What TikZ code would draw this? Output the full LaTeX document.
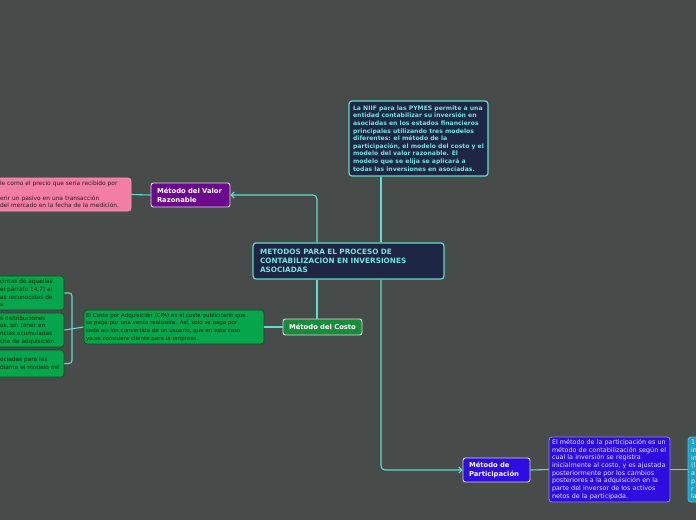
\documentclass[tikz,border=0pt]{standalone}
\usepackage{fontspec}
\setmainfont{DejaVu Sans}
\usetikzlibrary{arrows.meta}
\definecolor{bgcol}{HTML}{474C4B}
\definecolor{linkcol}{HTML}{62DCCB}
\definecolor{navy}{HTML}{1D2642}
\definecolor{roottext}{HTML}{74E2DE}
\definecolor{purplebox}{HTML}{6C0A8E}
\definecolor{pinkbox}{HTML}{F27DA5}
\definecolor{greendark}{HTML}{1A8A3B}
\definecolor{greenbox}{HTML}{08A64C}
\definecolor{greenedge}{HTML}{124A26}
\definecolor{bluebox}{HTML}{2F0CE0}
\definecolor{blueedge}{HTML}{8F86E6}
\definecolor{tealbox}{HTML}{1DA2C6}

\begin{document}
\begin{tikzpicture}[x=1pt, y=-1pt,
  root/.style={draw=linkcol, line width=1.2pt, fill=navy, rounded corners=3pt,
               text=roottext, align=left, inner ysep=0pt},
  title/.style={draw=white!85!black, line width=0.9pt, rounded corners=2.5pt,
                text=white, align=left, inner ysep=0pt,
                font=\fontsize{6.8}{9.2}\selectfont\bfseries},
  note/.style={line width=0.8pt, rounded corners=3pt, align=left, inner ysep=0pt,
               font=\fontsize{5.5}{7.7}\selectfont},
  link/.style={draw=linkcol, line width=1.1pt, rounded corners=4pt},
  tip/.style={-{Straight Barb[length=3pt,width=6pt]}}
]
\fill[bgcol] (0,0) rectangle (696,520);
\useasboundingbox (0,0) rectangle (696,520);
\clip (0,0) rectangle (696,520);

% centre and the note above it
\node[root, text width=177pt, inner xsep=7pt, minimum height=36pt,
      font=\fontsize{7.3}{9}\selectfont\bfseries] (centre) at (348.5,261)
  {METODOS PARA EL PROCESO DE\\CONTABILIZACION EN INVERSIONES\\ASOCIADAS};
\node[root, minimum width=139pt, inner xsep=2pt, minimum height=75pt,
      font=\fontsize{6.1}{7.6}\selectfont\bfseries] (niif) at (418.5,138.5)
  {La NIIF para las PYMES permite a una\\
   entidad contabilizar su inversión en\\
   asociadas en los estados financieros\\
   principales utilizando tres modelos\\
   diferentes: el método de la\\
   participación, el modelo del costo y el\\
   modelo del valor razonable. El\\
   modelo que se elija se aplicará a\\
   todas las inversiones en asociadas.};

% the three methods
\node[title, fill=purplebox, text width=67pt, inner xsep=6pt, minimum height=24pt]
  (valor) at (190.5,195) {Método del Valor\\Razonable};
\node[title, fill=greendark, text width=71pt, inner xsep=4pt, minimum height=16pt,
      align=center] (costo) at (322.5,327) {Método del Costo};
\node[title, fill=bluebox, text width=55pt, inner xsep=6pt, minimum height=24pt]
  (partic) at (496.5,470) {Método de\\Participación};

% valor razonable
\node[note, fill=pinkbox, draw=pinkbox!80!white, text=black!80!pinkbox,
      font=\fontsize{5.9}{7.4}\selectfont,
      text width=130pt, inner xsep=3.5pt, minimum height=33pt] (pink) at (62.5,194.5)
  {\hspace*{2.5pt}le como el precio que sería recibido por\\[7.4pt]
   \hspace*{2.5pt}erir un pasivo en una transacción\\
   \hspace*{2.5pt}del mercado en la fecha de la medición.};

% costo
\node[note, fill=greenbox, draw=greenedge, text=black!85!green,
      text width=176pt, inner xsep=2pt, minimum height=34pt] (cpa) at (174,327)
  {El Coste por Adquisición (CPA) es el coste publicitario que\\
   se paga por una venta realizada. Así, solo se paga por\\
   cada acción convertida de un usuario, que en este caso\\
   ya se considera cliente para la empresa.};
\node[note, fill=greenbox, draw=greenedge, text=black!85!green,
      font=\fontsize{5.8}{7.7}\selectfont,
      text width=62pt, inner xsep=4pt, minimum height=34pt] (costa) at (29,293)
  {\hspace*{2pt}cintas de aquellas\\\hspace*{2pt}el párrafo 14.7) al\\
   \hspace*{2pt}as reconocidas de\\\hspace*{2pt}s.};
\node[note, fill=greenbox, draw=greenedge, text=black!85!green,
      font=\fontsize{5.8}{7.7}\selectfont,
      text width=62pt, inner xsep=4pt, minimum height=34pt] (costb) at (29,330)
  {\hspace*{2pt}s distribuciones\\\hspace*{2pt}os, sin tener en\\
   \hspace*{2pt}ncias acumuladas\\\hspace*{2pt}cha de adquisición.};
\node[note, fill=greenbox, draw=greenedge, text=black!85!green,
      font=\fontsize{5.8}{7.7}\selectfont,
      text width=62pt, inner xsep=4pt, minimum height=27pt] (costc) at (29,363.5)
  {\hspace*{2pt}ociadas para las\\\hspace*{2pt}diante el modelo del};

% participacion
\node[note, fill=bluebox, draw=blueedge, text=white!90!blue,
      font=\fontsize{6.4}{7.7}\selectfont,
      text width=119pt, inner xsep=1pt, minimum height=65pt] (ptext) at (609.5,469.5)
  {\hspace*{2pt}El método de la participación es un\\
   \hspace*{2pt}método de contabilización según el\\
   \hspace*{2pt}cual la inversión se registra\\
   \hspace*{2pt}inicialmente al costo, y es ajustada\\
   \hspace*{2pt}posteriormente por los cambios\\
   \hspace*{2pt}posteriores a la adquisición en la\\
   \hspace*{2pt}parte del inversor de los activos\\
   \hspace*{2pt}netos de la participada.};
\node[note, fill=tealbox, draw=tealbox!70!white, text=white!85!tealbox,
      font=\fontsize{6.4}{7.7}\selectfont,
      text width=46pt, inner xsep=3pt, minimum height=65pt] (pnext) at (714,469.5)
  {1\\in\\in\\(l\\a\\p\\r\\la};

\coordinate (jl) at (317,0);
\coordinate (jr) at (381,0);
\coordinate (fork) at (72,327);

\draw[link] (niif.south -| jr) -- (centre.north -| jr);
\draw[link, tip] (centre.north -| jl) |- (valor.east);
\draw[link] (centre.south -| jl) -- (costo.north -| jl);
\draw[link, tip] (centre.south -| jr) |- (partic.west);
\draw[link] (pink.east) -- (valor.west);
\draw[link] (costo.west) -- (cpa.east);
\draw[link] (cpa.west) -- (costb.east);
\draw[link, rounded corners=3pt] (costa.east) -| (fork) |- (costc.east);
\draw[link] (partic.east) -- (ptext.west);
\draw[link] (ptext.east) -- (pnext.west);
\end{tikzpicture}
\end{document}
